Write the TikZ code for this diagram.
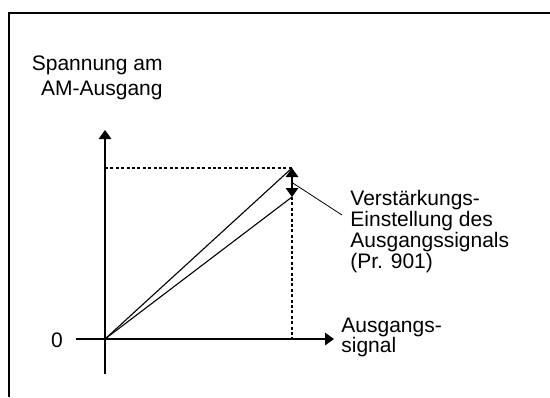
\documentclass[tikz,border=0pt]{standalone}
\usepackage{fontspec}
\setmainfont{Liberation Sans}
\usetikzlibrary{arrows.meta,positioning,calc}

\begin{document}
\begin{tikzpicture}[
    x=0.5pt, y=-0.5pt,
    axis/.style={line width=0.65pt, -{Triangle[length=4.5pt, width=6.3pt]}},
    graph/.style={line width=0.55pt},
    guide/.style={line width=0.55pt, dash pattern=on 1.5pt off 1.2pt},
    gain/.style={line width=0.55pt, {Triangle[length=4.5pt, width=6.3pt]}-{Triangle[length=4.5pt, width=6.3pt]}},
    label/.style={inner sep=0pt, font=\fontsize{10.5}{10}\selectfont}
]
    \useasboundingbox (0,0) rectangle (550,397);
    % frame (top and left edge only)
    \draw[line width=1.25pt] (9,397) -- (9,13) -- (550,13);

    \coordinate (O) at (105,339);
    \coordinate (ytip) at (105,130);
    \coordinate (ybot) at (105,374);
    \coordinate (xtip) at (334,339);
    \coordinate (xstart) at (76,339);
    \coordinate (top) at (292,168);
    \coordinate (bot) at (292,197);
    \coordinate (ytop) at (105,168);
    \coordinate (xend) at (292,339);
    \coordinate (mid) at (292,182.5);
    \coordinate (lead) at (342,215);

    % axes
    \draw[axis] (ybot) -- (ytip);
    \draw[axis] (xstart) -- (xtip);

    % guides
    \draw[guide] (ytop) -- (top);
    \draw[guide] (bot) -- (xend);

    % characteristic lines
    \draw[graph] (O) -- (top);
    \draw[graph] (O) -- (bot);
    \draw[gain] (top) -- (bot);
    \draw[line width=0.4pt] (mid) -- (lead);

    % labels
    \node[label, anchor=north east, align=right,
          font=\fontsize{10.5}{12.5}\selectfont] (ylabel) at (163,55)
          {Spannung am\\AM-Ausgang};
    \node[label] (zero) at (57,340) {0};
    \node[label, anchor=north west, align=left] (xlabel) at (341,318)
          {Ausgangs-\\signal};
    \node[label, anchor=north west, align=left,
          font=\fontsize{10.5}{10.4}\selectfont] (gainlabel) at (350,190)
          {Verstärkungs-\\Einstellung des\\Ausgangssignals\\(Pr. 901)};
\end{tikzpicture}
\end{document}
